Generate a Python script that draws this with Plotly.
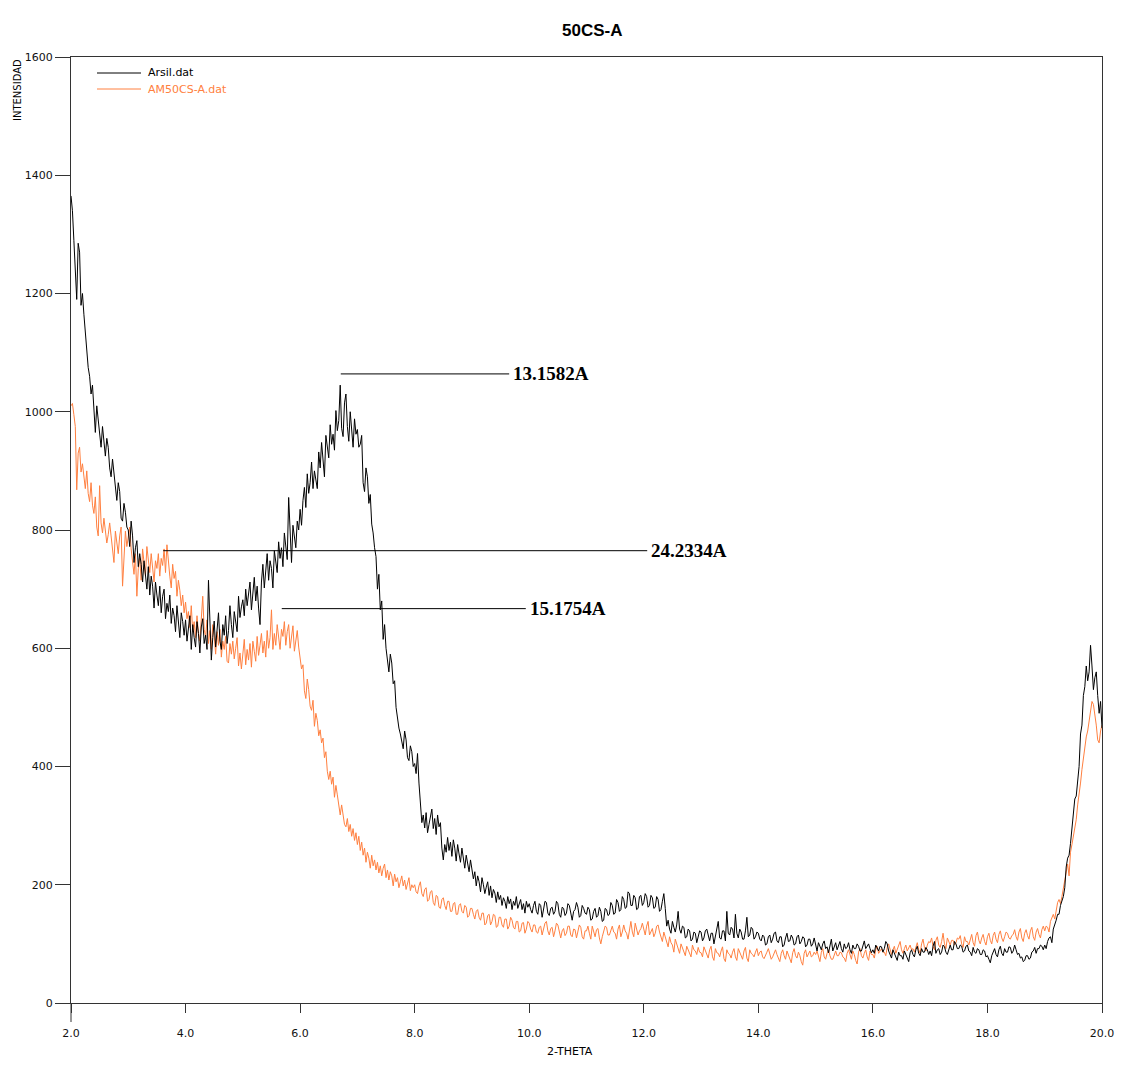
import numpy as np
import plotly.graph_objects as go

# Scan grid: 2-theta from 2.000 to 20.000 deg, 0.025 deg step
two_theta_start = 2.0
two_theta_step = 0.025

# Arsil.dat intensities, one row of 40 readings per degree, last value at 20.000
arsil_counts = [
    1365, 1340, 1290, 1225, 1190, 1285, 1270, 1180, 1200, 1165, 1130, 1110, 1075, 1060, 1030, 1045, 1000, 965, 1010, 990,
    965, 940, 975, 950, 925, 955, 940, 905, 890, 920, 895, 870, 850, 880, 865, 820, 815, 845, 830, 805,
    800, 772, 815, 790, 745, 770, 782, 738, 760, 742, 712, 748, 725, 700, 738, 690, 722, 705, 668, 712,
    690, 672, 705, 660, 688, 700, 650, 676, 662, 690, 642, 668, 655, 628, 672, 640, 618, 660, 645, 622,
    648, 612, 630, 655, 598, 640, 618, 602, 645, 625, 592, 636, 650, 608, 622, 598, 715, 628, 580, 618,
    646, 602, 635, 660, 612, 598, 640, 622, 655, 608, 630, 672, 640, 618, 662, 645, 628, 688, 652, 670,
    682, 655, 700, 672, 690, 712, 665, 698, 720, 680, 705, 668, 640, 712, 742, 702, 728, 760, 715, 748,
    735, 702, 765, 748, 728, 780, 752, 770, 738, 795, 772, 750, 855, 782, 745, 808, 790, 770, 815, 800,
    835, 808, 850, 872, 838, 895, 862, 880, 915, 870, 900, 885, 870, 932, 905, 948, 918, 890, 960, 935,
    922, 978, 945, 962, 935, 1002, 968, 985, 1045, 972, 958, 1015, 1030, 975, 950, 1000, 972, 940, 988, 962,
    970, 940, 945, 960, 880, 865, 905, 890, 845, 860, 810, 795, 770, 755, 700, 725, 665, 680, 615, 640,
    600, 580, 560, 590, 575, 540, 545, 500, 480, 465, 455, 440, 430, 460, 445, 415, 410, 435, 425, 400,
    405, 388, 422, 372, 338, 305, 318, 296, 322, 288, 302, 318, 328, 295, 312, 285, 318, 298, 305, 262,
    242, 268, 255, 280, 258, 272, 248, 276, 262, 240, 268, 252, 238, 262, 245, 228, 250, 235, 222, 242,
    228, 210, 222, 198, 215, 205, 188, 212, 200, 185, 196, 205, 182, 198, 178, 192, 186, 170, 188, 175,
    182, 165, 178, 172, 160, 180, 168, 176, 158, 172, 165, 180, 160, 170, 175, 158, 168, 152, 172, 162,
    168, 158, 152, 165, 172, 155, 150, 168, 165, 145, 158, 172, 170, 152, 148, 160, 162, 150, 155, 172,
    168, 150, 145, 162, 160, 148, 152, 168, 165, 150, 140, 155, 158, 170, 162, 145, 148, 165, 160, 152,
    150, 162, 158, 140, 142, 155, 160, 145, 148, 162, 155, 138, 140, 160, 158, 148, 150, 170, 165, 150,
    152, 175, 170, 155, 158, 180, 175, 160, 162, 188, 185, 165, 165, 182, 178, 158, 160, 180, 182, 165,
    170, 185, 180, 162, 165, 182, 178, 160, 162, 180, 175, 155, 158, 172, 185, 160, 130, 140, 125, 118,
    138, 128, 120, 132, 155, 125, 118, 130, 128, 110, 112, 125, 122, 105, 108, 120, 118, 102, 112, 122,
    120, 105, 110, 122, 125, 112, 105, 118, 118, 100, 112, 125, 138, 110, 108, 122, 122, 105, 155, 118,
    115, 128, 125, 110, 150, 118, 110, 125, 120, 108, 108, 122, 145, 112, 115, 128, 125, 108, 112, 120,
    118, 108, 105, 115, 112, 98, 100, 112, 115, 102, 108, 118, 120, 105, 102, 112, 112, 95, 98, 110,
    118, 104, 105, 115, 110, 98, 100, 112, 115, 100, 104, 112, 110, 95, 98, 108, 108, 96, 100, 110,
    96, 88, 102, 95, 90, 100, 105, 92, 95, 85, 100, 108, 88, 95, 102, 90, 96, 104, 92, 86,
    100, 92, 94, 102, 90, 84, 98, 92, 92, 100, 96, 88, 88, 98, 105, 92, 95, 100, 92, 85,
    90, 84, 98, 92, 88, 96, 95, 86, 92, 104, 100, 88, 82, 76, 90, 84, 78, 72, 86, 80,
    80, 74, 88, 82, 76, 70, 85, 90, 82, 78, 90, 96, 84, 80, 92, 86, 86, 94, 90, 82,
    88, 80, 96, 104, 84, 90, 92, 82, 86, 98, 95, 86, 82, 92, 98, 90, 90, 104, 100, 92,
    92, 98, 96, 86, 88, 96, 98, 88, 86, 80, 94, 86, 84, 92, 90, 82, 82, 90, 88, 78,
    80, 74, 68, 80, 86, 92, 82, 78, 90, 96, 84, 80, 92, 86, 86, 95, 94, 84, 88, 98,
    90, 82, 84, 76, 78, 70, 72, 80, 80, 74, 76, 86, 88, 94, 84, 92, 92, 98, 96, 90,
    98, 92, 104, 110, 112, 102, 125, 132, 140, 150, 150, 165, 172, 180, 195, 230, 245, 250, 270, 300,
    320, 345, 350, 375, 400, 455, 470, 520, 535, 570, 545, 560, 605, 570, 530, 550, 560, 520, 490, 510,
    465,
]

# AM50CS-A.dat intensities, same grid
am50cs_counts = [
    1010, 1014, 995, 975, 868, 930, 940, 898, 912, 885, 870, 900, 862, 848, 880, 842, 828, 856, 805, 790,
    875, 812, 795, 820, 802, 778, 792, 812, 790, 768, 745, 798, 776, 760, 790, 805, 705, 768, 798, 772,
    790, 805, 768, 742, 725, 760, 688, 735, 752, 715, 768, 745, 722, 772, 750, 728, 760, 738, 712, 748,
    735, 760, 722, 752, 740, 768, 728, 775, 745, 722, 702, 742, 718, 730, 688, 715, 698, 672, 690, 660,
    678, 650, 662, 635, 672, 628, 645, 618, 655, 625, 612, 645, 688, 632, 620, 648, 608, 630, 598, 640,
    622, 590, 628, 605, 632, 585, 612, 598, 620, 578, 575, 608, 590, 612, 582, 600, 618, 570, 592, 565,
    588, 615, 572, 598, 580, 608, 568, 612, 595, 578, 620, 588, 605, 625, 592, 612, 585, 630, 600, 618,
    665, 598, 625, 605, 640, 612, 598, 632, 620, 645, 605, 628, 640, 600, 622, 638, 595, 615, 630, 602,
    582, 565, 572, 528, 515, 548, 530, 502, 495, 512, 468, 490, 478, 452, 462, 440, 448, 415, 425, 392,
    378, 392, 370, 382, 348, 368, 352, 330, 318, 335, 318, 302, 298, 312, 290, 302, 282, 295, 275, 288,
    268, 282, 258, 272, 250, 262, 238, 255, 245, 228, 250, 232, 242, 225, 238, 220, 232, 215, 228, 235,
    212, 225, 208, 222, 215, 198, 218, 205, 212, 195, 205, 215, 198, 208, 192, 205, 212, 190, 200, 195,
    200, 188, 185, 198, 205, 185, 180, 192, 195, 172, 175, 188, 190, 170, 165, 182, 180, 162, 160, 175,
    178, 165, 158, 172, 172, 155, 155, 168, 170, 150, 150, 165, 168, 155, 152, 165, 162, 145, 148, 160,
    160, 150, 142, 155, 158, 145, 140, 152, 152, 132, 135, 148, 150, 132, 138, 150, 148, 128, 130, 145,
    145, 132, 128, 142, 142, 125, 130, 145, 140, 128, 125, 138, 138, 120, 122, 135, 136, 118, 125, 138,
    135, 125, 120, 132, 132, 120, 118, 128, 130, 115, 125, 135, 138, 122, 115, 126, 128, 112, 122, 135,
    132, 118, 110, 122, 126, 114, 118, 130, 130, 115, 112, 125, 124, 110, 120, 132, 128, 112, 108, 122,
    122, 130, 118, 108, 130, 120, 112, 124, 126, 110, 100, 112, 120, 130, 128, 115, 115, 125, 130, 120,
    118, 108, 125, 132, 112, 120, 132, 122, 118, 108, 128, 138, 120, 112, 135, 125, 115, 122, 126, 135,
    122, 115, 130, 138, 115, 122, 126, 112, 118, 130, 132, 120, 110, 104, 120, 112, 105, 95, 112, 102,
    98, 86, 108, 100, 92, 84, 100, 92, 88, 80, 96, 90, 85, 78, 98, 90, 88, 82, 94, 86,
    85, 78, 95, 88, 82, 76, 90, 96, 78, 72, 92, 85, 84, 78, 88, 95, 75, 70, 90, 84,
    82, 76, 86, 92, 78, 72, 92, 86, 80, 74, 88, 94, 76, 70, 90, 84, 82, 78, 86, 92,
    80, 86, 88, 78, 75, 82, 86, 92, 82, 74, 78, 84, 90, 82, 76, 70, 84, 90, 80, 74,
    88, 82, 74, 68, 85, 92, 80, 76, 86, 80, 70, 64, 84, 90, 78, 84, 88, 78, 80, 86,
    82, 88, 76, 70, 86, 92, 78, 74, 84, 90, 80, 74, 74, 82, 88, 80, 80, 86, 85, 78,
    76, 70, 84, 90, 80, 74, 88, 82, 72, 66, 86, 92, 80, 76, 84, 90, 78, 72, 88, 82,
    82, 76, 90, 96, 84, 88, 92, 86, 86, 80, 94, 100, 88, 82, 90, 96, 84, 90, 96, 104,
    90, 84, 92, 98, 88, 94, 98, 90, 92, 86, 94, 102, 90, 84, 100, 108, 94, 88, 98, 104,
    102, 110, 96, 90, 106, 112, 98, 94, 104, 118, 100, 92, 110, 104, 98, 106, 106, 98, 102, 110,
    108, 114, 100, 94, 112, 104, 104, 98, 108, 116, 102, 96, 114, 120, 106, 100, 110, 116, 104, 98,
    112, 118, 106, 100, 114, 120, 108, 102, 116, 122, 110, 104, 112, 120, 118, 110, 108, 114, 116, 124,
    112, 106, 120, 126, 110, 104, 118, 124, 114, 108, 122, 128, 112, 106, 120, 126, 116, 110, 124, 130,
    122, 130, 128, 120, 138, 145, 150, 142, 158, 170, 175, 168, 180, 195, 205, 225, 235, 215, 255, 268,
    280, 295, 310, 335, 350, 372, 395, 415, 430, 450, 460, 480, 495, 510, 505, 490, 470, 445, 440, 460,
    470,
]

# d-spacing labels: (text, 2-theta where the leader starts, 2-theta where it ends, intensity level)
peak_labels = ["13.1582A", "24.2334A", "15.1754A"]
peak_line_start = [6.71, 3.61, 5.68]
peak_line_end = [9.65, 12.06, 9.94]
peak_line_level = [1064, 765, 667]

x_tick_values = [2, 4, 6, 8, 10, 12, 14, 16, 18, 20]
x_tick_text = ["2.0", "4.0", "6.0", "8.0", "10.0", "12.0", "14.0", "16.0", "18.0", "20.0"]
y_tick_values = [0, 200, 400, 600, 800, 1000, 1200, 1400, 1600]

series_names = ["Arsil.dat", "AM50CS-A.dat"]
series_colors = ["#000000", "#FF8040"]

assert len(arsil_counts) == len(am50cs_counts) == 721
two_theta = np.round(two_theta_start + two_theta_step * np.arange(len(arsil_counts)), 3)

W, H = 1127, 1079
L, R, T, B = 71, 1102, 57, 1003
pw, ph = R - L, B - T


def px(xp):
    return (xp - L) / pw


def py(yp):
    return (B - yp) / ph


fig = go.Figure()
# orange pattern first so the black one sits on top
fig.add_trace(go.Scatter(x=two_theta, y=am50cs_counts, mode="lines", name=series_names[1],
                         line=dict(color=series_colors[1], width=1), showlegend=False))
fig.add_trace(go.Scatter(x=two_theta, y=arsil_counts, mode="lines", name=series_names[0],
                         line=dict(color=series_colors[0], width=1), showlegend=False))

shapes = []
annotations = []

# leader lines and d-spacing labels
for text, x0, x1, lvl in zip(peak_labels, peak_line_start, peak_line_end, peak_line_level):
    shapes.append(dict(type="line", xref="x", yref="y", x0=x0, x1=x1, y0=lvl, y1=lvl,
                       line=dict(color="black", width=1)))
    annotations.append(dict(xref="x", yref="y", x=x1, y=lvl, text="<b>%s</b>" % text, showarrow=False,
                            xanchor="left", yanchor="middle", xshift=2,
                            font=dict(family="Liberation Serif", size=19, color="black")))

# y axis line runs a little below the x axis
shapes.append(dict(type="line", xref="paper", yref="paper", x0=0, x1=0, y0=0, y1=py(1022),
                   line=dict(color="#333333", width=1)))

# legend block
legend_rows_y = [73, 89]
for name, color, ly in zip(series_names, series_colors, legend_rows_y):
    shapes.append(dict(type="line", xref="paper", yref="paper", x0=px(97), x1=px(141),
                       y0=py(ly), y1=py(ly), line=dict(color=color, width=1)))
    annotations.append(dict(xref="paper", yref="paper", x=px(146), y=py(ly), text=name,
                            showarrow=False, xanchor="left", yanchor="middle",
                            font=dict(family="DejaVu Sans", size=11, color=color)))

# title and axis titles
annotations.append(dict(xref="paper", yref="paper", x=px(592), y=py(31), text="<b>50CS-A</b>",
                        showarrow=False, xanchor="center", yanchor="middle",
                        font=dict(family="Liberation Sans", size=17, color="black")))
annotations.append(dict(xref="paper", yref="paper", x=px(17), y=1, text="INTENSIDAD",
                        showarrow=False, textangle=-90, xanchor="center", yanchor="top",
                        font=dict(family="DejaVu Sans", size=10, color="black")))
annotations.append(dict(xref="paper", yref="paper", x=px(570), y=py(1051), text="2-THETA",
                        showarrow=False, xanchor="center", yanchor="middle",
                        font=dict(family="DejaVu Sans", size=11, color="black")))

tick_font = dict(family="DejaVu Sans", size=11, color="#111111")

fig.update_layout(
    width=W, height=H,
    margin=dict(l=L, r=W - R, t=T, b=H - B, pad=0),
    paper_bgcolor="white", plot_bgcolor="white",
    shapes=shapes, annotations=annotations,
    xaxis=dict(range=[2, 20], tickvals=x_tick_values, ticktext=x_tick_text,
               ticks="outside", ticklen=9, tickwidth=1, tickcolor="#333333",
               ticklabelstandoff=11,
               showline=True, linecolor="#333333", linewidth=1, mirror=True,
               showgrid=False, zeroline=False, tickfont=tick_font),
    yaxis=dict(range=[0, 1600], tickvals=y_tick_values,
               ticks="outside", ticklen=15, tickwidth=1, tickcolor="#333333",
               showline=True, linecolor="#333333", linewidth=1, mirror=True,
               showgrid=False, zeroline=False, tickfont=tick_font),
)

fig.write_html("out.html")
